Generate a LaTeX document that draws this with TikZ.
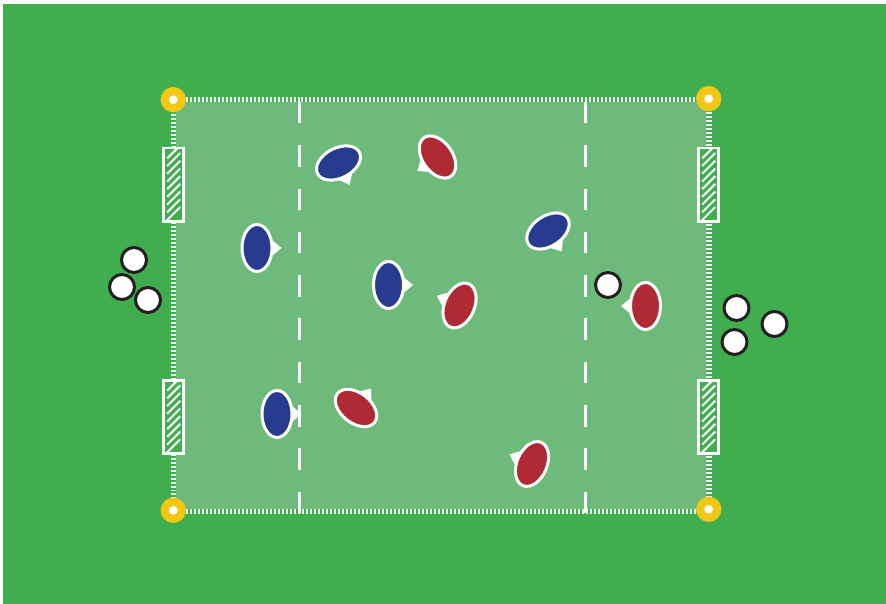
\documentclass[tikz,border=0pt]{standalone}
\usepackage{xcolor}
\usetikzlibrary{shapes.geometric, calc}
\definecolor{grass}{HTML}{40AE4E}
\definecolor{pitch}{HTML}{6EBA7B}
\definecolor{teamblue}{HTML}{273C8F}
\definecolor{teamred}{HTML}{B02A35}
\definecolor{cone}{HTML}{F0C815}
\definecolor{ballline}{HTML}{231F20}
\tikzset{
  player/.style={draw=white, line width=0.06cm, shape=ellipse, inner sep=0pt, minimum width=0.6cm, minimum height=0.94cm, transform shape},
  ball/.style={draw=ballline, fill=white, line width=0.06cm, circle, inner sep=0pt, minimum size=0.5cm},
  marker/.style={draw=cone, fill=white, line width=0.165cm, circle, inner sep=0pt, minimum size=0.34cm},
  goalbox/.style={draw=white, fill=grass, line width=0.055cm, inner sep=0pt, minimum width=0.4cm, minimum height=1.465cm,
    path picture={\foreach \k in {0,...,8} {\draw[white, line width=0.04cm] ($(path picture bounding box.center)+(-6.5,-35.3+\k*7.7)$) -- ++(13,13);}}},
}
\begin{document}
\begin{tikzpicture}[x=0.02cm, y=0.02cm]
  \useasboundingbox (0,0) rectangle (886,604);
  \fill[grass] (3,0) rectangle (886,600);
  % pitch
  \fill[pitch] (176,95) rectangle (706,502);
  \draw[white!88!pitch, line width=0.11cm, dash pattern=on 0.04cm off 0.04cm] (173.5,92.5) -- (173.5,504.3) -- (708.8,504.3) -- (708.8,92.5) -- cycle;
  % halfway lines
  \foreach \lx/\nm in {299/lineA, 585/lineB} {
    \coordinate (\nm top) at (\lx,502);
    \coordinate (\nm bot) at (\lx,91);
    \draw[white, line width=0.06cm, dash pattern=on 0.43cm off 0.436cm] (\nm top) -- (\nm bot);
  }
  % goals
  \node[goalbox] (goalNW) at (173.7,419.3) {};
  \node[goalbox] (goalSW) at (173.7,187) {};
  \node[goalbox] (goalNE) at (708.7,419.3) {};
  \node[goalbox] (goalSE) at (708.7,187) {};
  % corners
  \node[marker] (coneNW) at (173.3,504.3) {};
  \node[marker] (coneNE) at (708.7,505.3) {};
  \node[marker] (coneSW) at (173.3,93.7) {};
  \node[marker] (coneSE) at (708.7,94.7) {};
  % players
  \foreach \px/\py/\ang/\col/\nm in {
    338.5/441/-63/teamblue/blueA, 257/356/0/teamblue/blueB, 388.5/319/0/teamblue/blueC,
    548/373/-56/teamblue/blueD, 277/190/0/teamblue/blueE,
    437.5/447/215/teamred/redA, 459.5/298.5/157/teamred/redB, 645.5/298/180/teamred/redC,
    356/196/52/teamred/redD, 532/140/157/teamred/redE} {
    \begin{scope}[shift={(\px,\py)}, rotate=\ang]
      \fill[white] (24.5,0) -- (10,12) -- (10,-12) -- cycle;
      \node[player, fill=\col] (\nm) at (0,0) {};
    \end{scope}
  }
  % balls
  \node[ball] (ballA) at (134,344) {};
  \node[ball] (ballB) at (122,317) {};
  \node[ball] (ballC) at (148,304) {};
  \node[ball] (ballD) at (608,319) {};
  \node[ball] (ballE) at (736.5,296) {};
  \node[ball] (ballF) at (734.5,262) {};
  \node[ball] (ballG) at (774.5,280) {};
\end{tikzpicture}
\end{document}
